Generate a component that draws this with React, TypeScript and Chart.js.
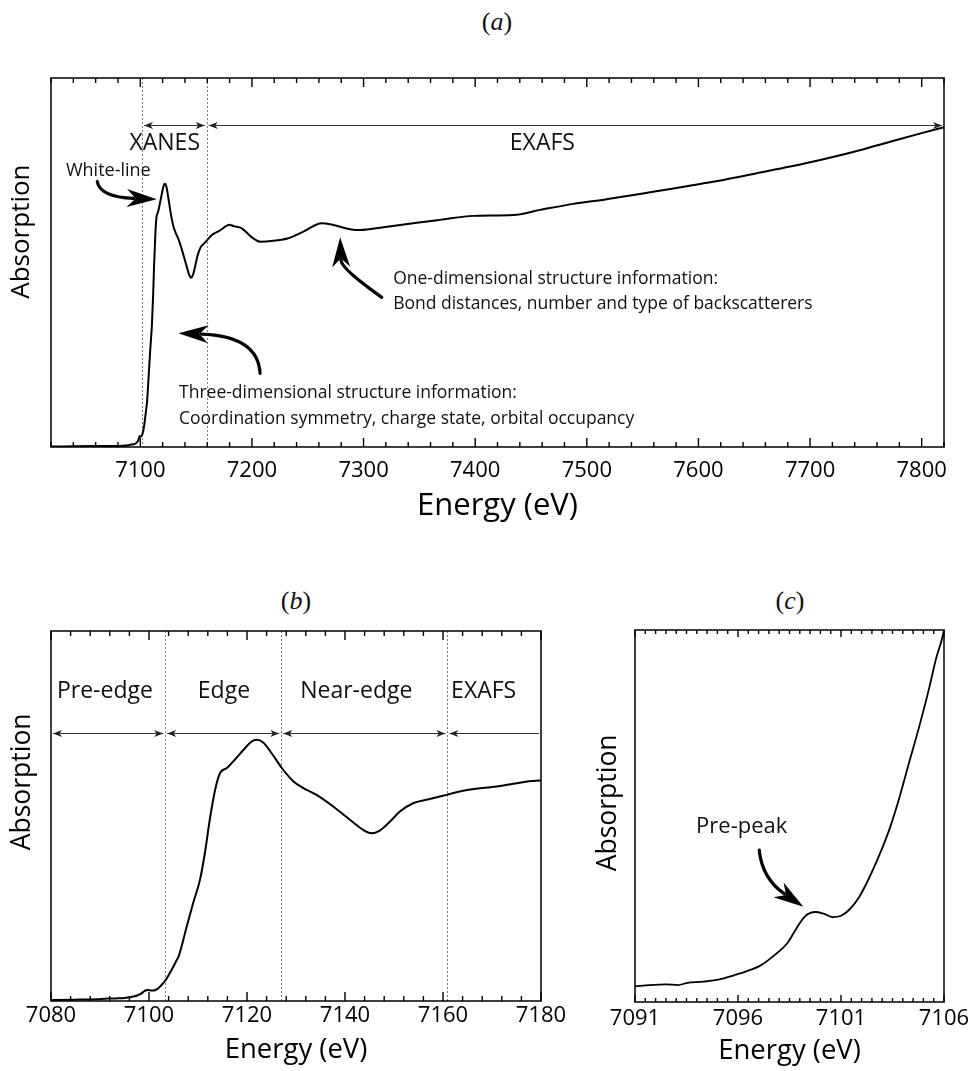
import React, { useEffect, useRef } from 'react';
import { Chart, registerables } from 'chart.js';

Chart.register(...registerables);

// Fe K-edge X-ray absorption spectrum: photon energy (eV) and normalised absorption
const energyEV = [
  7020, 7040, 7060, 7080, 7085, 7089.3,
  7091.0, 7091.7, 7092.5, 7093.1, 7093.5, 7094.3, 7095.1, 7095.8, 7096.4, 7097.1,
  7097.7, 7098.4, 7098.85, 7099.25, 7099.75, 7100.15, 7100.6, 7101.0, 7101.4, 7101.9,
  7102.4, 7102.9, 7103.4, 7103.85, 7104.3, 7104.8, 7105.3, 7105.6, 7106.0,
  7107.7, 7109.0, 7110.4, 7111.4, 7112.4, 7113.5, 7114.5, 7115.9, 7117.2, 7119.3,
  7121.0, 7122.0, 7123.3, 7125.0, 7127.1, 7129.5, 7131.5, 7134.2, 7137.6, 7141.0,
  7143.7, 7145.4, 7147.1, 7149.2, 7151.2, 7154.0, 7157.3, 7160.7, 7164.1, 7171.0,
  7180.0, 7183.4, 7190.9, 7199.8, 7207.3, 7219.2, 7232.6, 7246.1, 7262.6, 7273.0,
  7287.9, 7296.9, 7317.8, 7347.7, 7368.6, 7398.4, 7434.3, 7458.2, 7488.0, 7517.9,
  7547.7, 7577.6, 7601.5, 7622.4, 7652.3, 7682.2, 7712.0, 7741.9, 7771.8, 7801.6,
  7820.0,
];
const absorption = [
  0.002, 0.003, 0.004, 0.005, 0.006, 0.008,
  0.0103, 0.011, 0.0114, 0.011, 0.0121, 0.0128, 0.014, 0.0162, 0.0183, 0.0215,
  0.0263, 0.0334, 0.0414, 0.0476, 0.0499, 0.049, 0.0472, 0.0479, 0.0511, 0.0582,
  0.0688, 0.0812, 0.0955, 0.1114, 0.1292, 0.1487, 0.17, 0.1842, 0.2,
  0.338, 0.444, 0.55, 0.671, 0.823, 0.959, 1.035, 1.058, 1.088, 1.141,
  1.179, 1.186, 1.174, 1.126, 1.058, 0.997, 0.967, 0.936, 0.883, 0.823,
  0.777, 0.762, 0.774, 0.815, 0.86, 0.899, 0.917, 0.936, 0.955, 0.974,
  1.001, 0.995, 0.985, 0.945, 0.925, 0.929, 0.94, 0.97, 1.008, 1.0,
  0.981, 0.977, 0.99, 1.01, 1.023, 1.041, 1.045, 1.068, 1.095, 1.116,
  1.14, 1.164, 1.185, 1.203, 1.233, 1.263, 1.296, 1.333, 1.375, 1.416,
  1.44,
];

// (a) full spectrum
const overviewRange = [7020, 7820];
const overviewAbsRange = [0, 1.662];
const overviewTickStep = 20;
const overviewMajorStep = 100;
const overviewBounds = [7101.5, 7159.5];

// (b) near-edge region
const edgeRange = [7080, 7180];
const edgeAbsRange = [0, 1.68];
const edgeTickStep = 4;
const edgeMajorStep = 20;
const edgeBounds = [7103.3, 7127, 7160.9];
const edgeRegionNames = ['Pre-edge', 'Edge', 'Near-edge', 'EXAFS'];
const edgeRegionCentres = [7091.0, 7115.3, 7142.3, 7168.3];

// (c) pre-edge region
const preRange = [7091, 7106];
const preAbsRange = [0.002, 0.2];
const preTickStep = 0.5;
const preMajorStep = 5;

const SANS = '"Open Sans", "Noto Sans", sans-serif';

type Pt = [number, number];
type TextNote = { lines: string[]; at: Pt; align: CanvasTextAlign; size: number; gap?: number };
type CurveArrow = { tail: Pt; ctrl: Pt; tip: Pt };
type SpanArrow = { from: number; to: number; at: number; headStart: boolean; headEnd: boolean };

interface PanelSpec {
  key: string;
  box: { left: number; top: number; width: number; height: number };
  area: { left: number; top: number; right: number; bottom: number };
  xRange: number[];
  yRange: number[];
  step: number;
  major: number;
  origin: number;
  tickPad: number;
  titleY: number;
  titleSize: number;
  majorLen: number;
  minorLen: number;
  lineWidth: number;
  bounds: number[];
  spans: SpanArrow[];
  notes: TextNote[];
  curves: CurveArrow[];
  yTitle: { offset: number; at: number; size: number };
}

const panels: PanelSpec[] = [
  {
    key: 'a',
    box: { left: 0, top: 40, width: 974, height: 490 },
    area: { left: 51, top: 38, right: 944, bottom: 407 },
    xRange: overviewRange,
    yRange: overviewAbsRange,
    step: overviewTickStep,
    major: overviewMajorStep,
    origin: 0,
    tickPad: 11,
    titleY: 466,
    titleSize: 31,
    majorLen: 9,
    minorLen: 5,
    lineWidth: 2,
    bounds: overviewBounds,
    spans: [
      { from: overviewBounds[0], to: overviewBounds[1], at: 1.45, headStart: true, headEnd: true },
      { from: overviewBounds[1], to: overviewRange[1], at: 1.45, headStart: true, headEnd: true },
    ],
    notes: [
      { lines: ['XANES'], at: [7121.9, 1.368], align: 'center', size: 23 },
      { lines: ['EXAFS'], at: [7460.2, 1.368], align: 'center', size: 23 },
      { lines: ['White-line'], at: [7033.4, 1.245], align: 'left', size: 18 },
      {
        lines: ['Three-dimensional structure information:', 'Coordination symmetry, charge state, orbital occupancy'],
        at: [7134.7, 0.243], align: 'left', size: 17.5, gap: 26,
      },
      {
        lines: ['One-dimensional structure information:', 'Bond distances, number and type of backscatterers'],
        at: [7326.5, 0.757], align: 'left', size: 17.5, gap: 25,
      },
    ],
    curves: [
      { tail: [7061.5, 1.195], ctrl: [7063.9, 1.126], tip: [7114.7, 1.116] },
      { tail: [7207.3, 0.332], ctrl: [7205.5, 0.5], tip: [7134.1, 0.512] },
      { tail: [7316.3, 0.674], ctrl: [7280, 0.803], tip: [7279, 0.945] },
    ],
    yTitle: { offset: 29, at: 0.97, size: 26 },
  },
  {
    key: 'b',
    box: { left: 0, top: 620, width: 610, height: 451 },
    area: { left: 51, top: 11, right: 541, bottom: 381 },
    xRange: edgeRange,
    yRange: edgeAbsRange,
    step: edgeTickStep,
    major: edgeMajorStep,
    origin: 0,
    tickPad: 2,
    titleY: 430,
    titleSize: 27.5,
    majorLen: 9,
    minorLen: 5,
    lineWidth: 2,
    bounds: edgeBounds,
    spans: [
      { from: edgeRange[0], to: edgeBounds[0], at: 1.216, headStart: true, headEnd: true },
      { from: edgeBounds[0], to: edgeBounds[1], at: 1.216, headStart: true, headEnd: true },
      { from: edgeBounds[1], to: edgeBounds[2], at: 1.216, headStart: true, headEnd: true },
      { from: edgeBounds[2], to: edgeRange[1], at: 1.216, headStart: true, headEnd: false },
    ],
    notes: edgeRegionNames.map((name, i) => ({
      lines: [name], at: [edgeRegionCentres[i], 1.405] as Pt, align: 'center' as CanvasTextAlign, size: 23,
    })),
    curves: [],
    yTitle: { offset: 29, at: 0.995, size: 26.5 },
  },
  {
    key: 'c',
    box: { left: 575, top: 620, width: 399, height: 451 },
    area: { left: 60, top: 10, right: 369, bottom: 382 },
    xRange: preRange,
    yRange: preAbsRange,
    step: preTickStep,
    major: preMajorStep,
    origin: preRange[0],
    tickPad: 4,
    titleY: 431,
    titleSize: 27.5,
    majorLen: 7,
    minorLen: 4,
    lineWidth: 1.8,
    bounds: [],
    spans: [],
    notes: [{ lines: ['Pre-peak'], at: [7096.18, 0.0953], align: 'center', size: 22 }],
    curves: [{ tail: [7097.03, 0.0829], ctrl: [7097.17, 0.0677], tip: [7099.17, 0.0527] }],
    yTitle: { offset: 26.7, at: 0.108, size: 26.5 },
  },
];

function isMajor(v: number, spec: PanelSpec) {
  const k = (v - spec.origin) / spec.major;
  return Math.abs(k - Math.round(k)) < 1e-6;
}

function drawSmallHead(ctx: CanvasRenderingContext2D, x: number, y: number, dir: number) {
  ctx.beginPath();
  ctx.moveTo(x, y);
  ctx.lineTo(x - dir * 9, y - 3.5);
  ctx.lineTo(x - dir * 6.5, y);
  ctx.lineTo(x - dir * 9, y + 3.5);
  ctx.closePath();
  ctx.fill();
}

function decorPlugin(spec: PanelSpec) {
  return {
    id: 'decor_' + spec.key,
    beforeDatasetsDraw(chart: Chart) {
      const { ctx, chartArea } = chart;
      const xs = chart.scales.x;
      ctx.save();
      ctx.strokeStyle = '#7a7a7a';
      ctx.lineWidth = 1;
      ctx.setLineDash([2, 2]);
      spec.bounds.forEach((b) => {
        const px = Math.round(xs.getPixelForValue(b)) + 0.5;
        ctx.beginPath();
        ctx.moveTo(px, chartArea.top);
        ctx.lineTo(px, chartArea.bottom);
        ctx.stroke();
      });
      ctx.restore();
    },
    afterDraw(chart: Chart) {
      const { ctx, chartArea } = chart;
      const xs = chart.scales.x;
      const ys = chart.scales.y;
      const P = (p: Pt) => [xs.getPixelForValue(p[0]), ys.getPixelForValue(p[1])];
      const top = chartArea.top;
      const bottom = chartArea.bottom;
      ctx.save();

      // inward tick marks on the bottom and top edges
      ctx.fillStyle = '#000';
      xs.ticks.forEach((t) => {
        const px = xs.getPixelForValue(t.value);
        const len = isMajor(t.value, spec) ? spec.majorLen : spec.minorLen;
        ctx.fillRect(px - 0.7, bottom - len, 1.4, len);
        ctx.fillRect(px - 0.7, top, 1.4, len);
      });

      // frame
      ctx.strokeStyle = '#000';
      ctx.lineWidth = 1.5;
      ctx.strokeRect(chartArea.left, chartArea.top, chartArea.right - chartArea.left, chartArea.bottom - chartArea.top);

      // region spans
      ctx.strokeStyle = '#333';
      ctx.fillStyle = '#222';
      ctx.lineWidth = 1.1;
      spec.spans.forEach((s) => {
        const y = Math.round(ys.getPixelForValue(s.at)) + 0.5;
        const x1 = xs.getPixelForValue(s.from) + 2;
        const x2 = xs.getPixelForValue(s.to) - 2;
        ctx.beginPath();
        ctx.moveTo(x1, y);
        ctx.lineTo(x2, y);
        ctx.stroke();
        if (s.headStart) drawSmallHead(ctx, x1, y, -1);
        if (s.headEnd) drawSmallHead(ctx, x2, y, 1);
      });

      // text notes
      ctx.fillStyle = '#111';
      ctx.textBaseline = 'middle';
      spec.notes.forEach((n) => {
        const [x, y] = P(n.at);
        ctx.font = `${n.size}px ${SANS}`;
        ctx.textAlign = n.align;
        n.lines.forEach((line, i) => ctx.fillText(line, x, y + i * (n.gap || 0)));
      });

      // curved pointer arrows
      ctx.fillStyle = '#000';
      ctx.strokeStyle = '#000';
      ctx.lineWidth = 3.2;
      ctx.lineCap = 'round';
      spec.curves.forEach((c) => {
        const [tx, ty] = P(c.tail);
        const [cx, cy] = P(c.ctrl);
        const [px, py] = P(c.tip);
        let dx = px - cx;
        let dy = py - cy;
        const d = Math.hypot(dx, dy) || 1;
        dx /= d;
        dy /= d;
        const nx = -dy;
        const ny = dx;
        const L = 27;
        const W = 9;
        const bx = px - dx * L;
        const by = py - dy * L;
        ctx.beginPath();
        ctx.moveTo(tx, ty);
        ctx.quadraticCurveTo(cx, cy, bx + dx * 4, by + dy * 4);
        ctx.stroke();
        ctx.beginPath();
        ctx.moveTo(px, py);
        ctx.lineTo(bx + nx * W - dx * 3, by + ny * W - dy * 3);
        ctx.lineTo(bx + dx * 6, by + dy * 6);
        ctx.lineTo(bx - nx * W - dx * 3, by - ny * W - dy * 3);
        ctx.closePath();
        ctx.fill();
      });

      // vertical axis title
      const yc = ys.getPixelForValue(spec.yTitle.at);
      ctx.translate(chartArea.left - spec.yTitle.offset, yc);
      ctx.rotate(-Math.PI / 2);
      ctx.font = `${spec.yTitle.size}px ${SANS}`;
      ctx.textAlign = 'center';
      ctx.textBaseline = 'middle';
      ctx.fillStyle = '#000';
      ctx.fillText('Absorption', 0, 0);
      ctx.restore();
    },
  };
}

function buildConfig(spec: PanelSpec): any {
  const titleLH = spec.titleSize * 1.2;
  const axisH = spec.titleY + titleLH / 2 - spec.area.bottom;
  const padBottom = Math.max(0, spec.box.height - spec.area.bottom - axisH);
  return {
    type: 'line',
    data: {
      datasets: [
        {
          data: energyEV.map((e, i) => ({ x: e, y: absorption[i] })),
          borderColor: '#000',
          borderWidth: spec.lineWidth,
          pointRadius: 0,
          fill: false,
          cubicInterpolationMode: 'monotone',
        },
      ],
    },
    options: {
      responsive: false,
      animation: false,
      events: [],
      layout: {
        padding: {
          left: spec.area.left,
          top: spec.area.top,
          right: spec.box.width - spec.area.right,
          bottom: padBottom,
        },
      },
      plugins: { legend: { display: false }, tooltip: { enabled: false } },
      scales: {
        x: {
          type: 'linear',
          min: spec.xRange[0],
          max: spec.xRange[1],
          grid: { display: false, drawTicks: false },
          border: { display: false },
          ticks: {
            stepSize: spec.step,
            autoSkip: false,
            maxRotation: 0,
            minRotation: 0,
            padding: spec.tickPad,
            color: '#000',
            font: { family: SANS, size: 22 },
            callback: (v: number) => (isMajor(v, spec) ? String(Math.round(v)) : ''),
          },
          title: {
            display: true,
            text: 'Energy (eV)',
            color: '#000',
            font: { family: SANS, size: spec.titleSize },
            padding: 0,
          },
          afterFit: (scale: any) => {
            scale.height = axisH;
          },
        },
        y: { type: 'linear', display: false, min: spec.yRange[0], max: spec.yRange[1] },
      },
    },
    plugins: [decorPlugin(spec)],
  };
}

function Panel({ spec }: { spec: PanelSpec }) {
  const ref = useRef<HTMLCanvasElement | null>(null);
  useEffect(() => {
    if (!ref.current) return;
    const chart = new Chart(ref.current, buildConfig(spec));
    return () => chart.destroy();
  }, [spec]);
  return (
    <canvas
      ref={ref}
      width={spec.box.width}
      height={spec.box.height}
      style={{ position: 'absolute', left: spec.box.left, top: spec.box.top, display: 'block' }}
    />
  );
}

const panelLetters = [
  { letter: 'a', x: 497, y: 22 },
  { letter: 'b', x: 296, y: 601 },
  { letter: 'c', x: 790, y: 601 },
];

export default function App() {
  return (
    <div style={{ position: 'absolute', left: 0, top: 0, width: 974, height: 1071, background: '#fff', overflow: 'hidden' }}>
      {panels.map((p) => (
        <Panel key={p.key} spec={p} />
      ))}
      {panelLetters.map((l) => (
        <div
          key={l.letter}
          style={{
            position: 'absolute',
            left: l.x,
            top: l.y,
            transform: 'translate(-50%, -50%)',
            fontFamily: '"Liberation Serif", "DejaVu Serif", serif',
            fontSize: 26,
            lineHeight: 1,
            color: '#111',
            whiteSpace: 'nowrap',
          }}
        >
          (<i>{l.letter}</i>)
        </div>
      ))}
    </div>
  );
}
